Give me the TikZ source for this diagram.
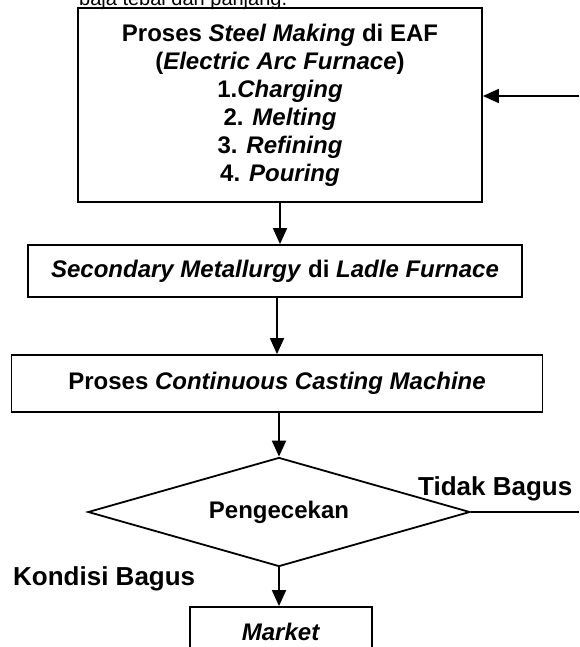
\documentclass[tikz,border=0pt]{standalone}
\usepackage{fontspec}
\setmainfont{Liberation Sans}
\usetikzlibrary{shapes.geometric,arrows.meta}

\begin{document}
\begin{tikzpicture}[x=1pt,y=-1pt,
  box/.style={draw,line width=1.8pt,rectangle,inner sep=0pt,align=center,font=\fontsize{24}{28}\selectfont\bfseries},
  dec/.style={draw,line width=1.8pt,diamond,aspect=3.5,inner sep=0pt,font=\fontsize{24}{28}\selectfont\bfseries},
  lbl/.style={inner sep=0pt,anchor=base west,font=\fontsize{26}{30}\selectfont\bfseries},
  arr/.style={line width=1.8pt,-{Triangle[length=16pt,width=14pt]}},
  ln/.style={line width=1.8pt}]
  \clip (0,0) rectangle (579,647);
  \node[inner sep=0pt,anchor=base west,font=\fontsize{20}{24}\selectfont] (intro) at (79,6) {baja tebal dan panjang.};
  \node[box,minimum width=404pt,minimum height=194pt] (eaf) at (280,105) {Proses \textit{Steel Making} di EAF\\(\textit{Electric Arc Furnace})\\1.\textit{Charging}\\2. \textit{Melting}\\3. \textit{Refining}\\4. \textit{Pouring}};
  \node[box,minimum width=494pt,minimum height=52pt] (lf) at (275,271) {\textit{Secondary Metallurgy} di \textit{Ladle Furnace}};
  \node[box,minimum width=531pt,minimum height=57pt] (ccm) at (277,383.5) {Proses \textit{Continuous Casting Machine}};
  \node[dec,minimum width=382pt,minimum height=109pt] (cek) at (279,512) {Pengecekan};
  \node[box,minimum width=182pt,minimum height=50pt] (mkt) at (281,632) {\textit{Market}};
  \coordinate (back) at (579,96);
  \coordinate (out) at (579,512);
  \node[lbl] (tidak) at (418,495) {Tidak Bagus};
  \node[lbl] (bagus) at (13,585) {Kondisi Bagus};
  \draw[arr] (eaf.south) -- (eaf.south |- lf.north);
  \draw[arr] (ccm.north |- lf.south) -- (ccm.north);
  \draw[arr] (cek.north |- ccm.south) -- (cek.north);
  \draw[arr] (cek.south) -- (cek.south |- mkt.north);
  \draw[ln] (cek.east) -- (out);
  \draw[arr] (back) -- (back -| eaf.east);
\end{tikzpicture}
\end{document}
